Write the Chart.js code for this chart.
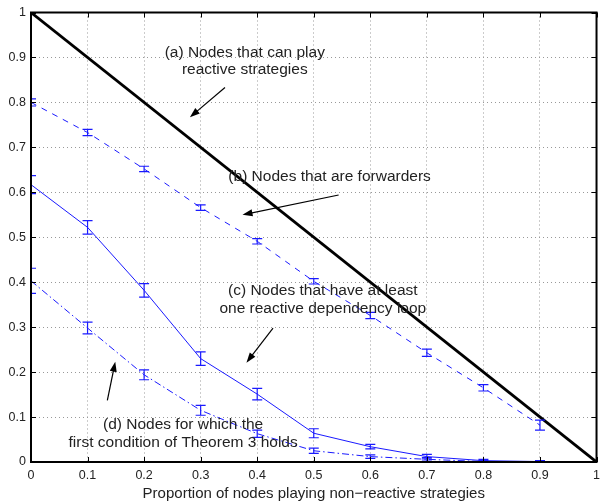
<!DOCTYPE html>
<html>
<head>
<meta charset="utf-8">
<script src="https://cdn.jsdelivr.net/npm/chart.js@4.4.1/dist/chart.umd.min.js"></script>
<style>
  html, body { margin: 0; padding: 0; background: #fff; }
  #wrap { width: 606px; height: 503px; }
</style>
</head>
<body>
<div id="wrap"><canvas id="chart"></canvas></div>
<script>
// data
const xValues = [0, 0.1, 0.2, 0.3, 0.4, 0.5, 0.6, 0.7, 0.8, 0.9];
const reactiveX = [0, 1];
const reactiveY = [1, 0];
const forwardersY = [0.80, 0.733, 0.652, 0.566, 0.491, 0.402, 0.326, 0.243, 0.165, 0.082];
const forwardersErr = [0.008, 0.007, 0.006, 0.006, 0.006, 0.006, 0.007, 0.008, 0.007, 0.011];
const loopY = [0.617, 0.522, 0.382, 0.23, 0.151, 0.064, 0.034, 0.012, 0.003, 0.001];
const loopErr = [0.02, 0.015, 0.015, 0.015, 0.013, 0.01, 0.005, 0.005, 0.003, 0.002];
const theoremY = [0.403, 0.298, 0.194, 0.115, 0.063, 0.025, 0.012, 0.006, 0.001, 0];
const theoremErr = [0.028, 0.013, 0.011, 0.011, 0.008, 0.006, 0.004, 0.004, 0.002, 0.001];
const tickValues = [0, 0.1, 0.2, 0.3, 0.4, 0.5, 0.6, 0.7, 0.8, 0.9, 1];

const BLUE = '#1a1aff';
const FONT = 'Liberation Sans, Arial, Helvetica, sans-serif';

// text annotations, positioned in data units
const notes = [
    { x: 0.378, y: [0.910, 0.873], lines: ['(a) Nodes that can play', 'reactive strategies'], from: [0.343, 0.833], to: [0.281, 0.767] },
    { x: 0.528, y: [0.634], lines: ['(b) Nodes that are forwarders'], from: [0.544, 0.594], to: [0.374, 0.550] },
    { x: 0.516, y: [0.380, 0.340], lines: ['(c) Nodes that have at least', 'one reactive dependency loop'], from: [0.428, 0.298], to: [0.381, 0.221] },
    { x: 0.269, y: [0.082, 0.042], lines: ['(d) Nodes for which the', 'first condition of Theorem 3 holds'], from: [0.135, 0.137], to: [0.149, 0.223] }
];

function toPoints(xs, ys) {
    return xs.map((x, i) => ({ x: x, y: ys[i] }));
}

const errorBarsPlugin = {
    id: 'errorBars',
    afterDatasetsDraw(chart) {
        const { ctx, chartArea, scales } = chart;
        ctx.save();
        ctx.beginPath();
        ctx.rect(chartArea.left, chartArea.top, chartArea.right - chartArea.left, chartArea.bottom - chartArea.top);
        ctx.clip();
        ctx.strokeStyle = BLUE;
        ctx.lineWidth = 1.2;
        chart.data.datasets.forEach(ds => {
            if (!ds.errors) return;
            ds.data.forEach((p, i) => {
                const px = scales.x.getPixelForValue(p.x);
                const top = scales.y.getPixelForValue(p.y + ds.errors[i]);
                const bot = scales.y.getPixelForValue(p.y - ds.errors[i]);
                ctx.beginPath();
                ctx.moveTo(px, top); ctx.lineTo(px, bot);
                ctx.moveTo(px - 5, top); ctx.lineTo(px + 5, top);
                ctx.moveTo(px - 5, bot); ctx.lineTo(px + 5, bot);
                ctx.stroke();
            });
        });
        ctx.restore();
    }
};

const frameAndNotesPlugin = {
    id: 'frameAndNotes',
    afterDraw(chart) {
        const { ctx, chartArea, scales } = chart;
        const { left, right, top, bottom } = chartArea;
        ctx.save();
        // tick marks on all four sides
        ctx.strokeStyle = '#000';
        ctx.lineWidth = 1;
        tickValues.forEach(v => {
            const px = Math.round(scales.x.getPixelForValue(v)) + 0.5;
            const py = Math.round(scales.y.getPixelForValue(v)) + 0.5;
            ctx.beginPath();
            ctx.moveTo(px, bottom); ctx.lineTo(px, bottom - 5);
            ctx.moveTo(px, top); ctx.lineTo(px, top + 5);
            ctx.moveTo(left, py); ctx.lineTo(left + 5, py);
            ctx.moveTo(right, py); ctx.lineTo(right - 5, py);
            ctx.stroke();
        });
        // box
        ctx.lineWidth = 2;
        ctx.strokeRect(left, top, right - left, bottom - top);

        // annotations
        ctx.fillStyle = '#222';
        ctx.font = '15.5px ' + FONT;
        ctx.textAlign = 'center';
        ctx.textBaseline = 'middle';
        notes.forEach(n => {
            const tx = scales.x.getPixelForValue(n.x);
            n.lines.forEach((line, i) => {
                ctx.fillText(line, tx, scales.y.getPixelForValue(n.y[i]));
            });
            const x1 = scales.x.getPixelForValue(n.from[0]);
            const y1 = scales.y.getPixelForValue(n.from[1]);
            const x2 = scales.x.getPixelForValue(n.to[0]);
            const y2 = scales.y.getPixelForValue(n.to[1]);
            const ang = Math.atan2(y2 - y1, x2 - x1);
            ctx.strokeStyle = '#000';
            ctx.lineWidth = 1.2;
            ctx.beginPath();
            ctx.moveTo(x1, y1);
            ctx.lineTo(x2 - 6 * Math.cos(ang), y2 - 6 * Math.sin(ang));
            ctx.stroke();
            ctx.fillStyle = '#000';
            ctx.beginPath();
            ctx.moveTo(x2, y2);
            ctx.lineTo(x2 - 10 * Math.cos(ang) + 3.5 * Math.sin(ang), y2 - 10 * Math.sin(ang) - 3.5 * Math.cos(ang));
            ctx.lineTo(x2 - 10 * Math.cos(ang) - 3.5 * Math.sin(ang), y2 - 10 * Math.sin(ang) + 3.5 * Math.cos(ang));
            ctx.closePath();
            ctx.fill();
            ctx.fillStyle = '#222';
        });
        ctx.restore();
    }
};

const ctx = document.getElementById('chart').getContext('2d');
new Chart(ctx, {
    type: 'scatter',
    data: {
        datasets: [
            {
                label: '(a)',
                data: toPoints(reactiveX, reactiveY),
                showLine: true,
                borderColor: '#000',
                borderWidth: 2.8,
                pointRadius: 0
            },
            {
                label: '(b)',
                data: toPoints(xValues, forwardersY),
                errors: forwardersErr,
                showLine: true,
                borderColor: BLUE,
                borderWidth: 1,
                borderDash: [6, 6],
                pointRadius: 0
            },
            {
                label: '(c)',
                data: toPoints(xValues, loopY),
                errors: loopErr,
                showLine: true,
                borderColor: BLUE,
                borderWidth: 1,
                pointRadius: 0
            },
            {
                label: '(d)',
                data: toPoints(xValues, theoremY),
                errors: theoremErr,
                showLine: true,
                borderColor: BLUE,
                borderWidth: 1,
                borderDash: [7, 3, 1.5, 3],
                pointRadius: 0
            }
        ]
    },
    options: {
        responsive: true,
        maintainAspectRatio: false,
        animation: false,
        layout: { padding: { top: 9, right: 3, left: 0, bottom: 0 } },
        plugins: { legend: { display: false }, tooltip: { enabled: false } },
        scales: {
            x: {
                type: 'linear',
                min: 0, max: 1,
                afterBuildTicks: s => { s.ticks = tickValues.map(v => ({ value: v })); },
                afterFit: s => { s.height = 41; },
                border: { display: false, dash: [1, 3] },
                grid: { color: '#999', drawTicks: false, lineWidth: 1 },
                ticks: { color: '#222', padding: 6, font: { family: FONT, size: 12.5 }, callback: v => String(Math.round(v * 10) / 10), maxRotation: 0 },
                title: { display: true, text: 'Proportion of nodes playing non\u2212reactive strategies', color: '#222', font: { family: FONT, size: 15 }, padding: { top: 0, bottom: 0 } }
            },
            y: {
                type: 'linear',
                min: 0, max: 1,
                afterBuildTicks: s => { s.ticks = tickValues.map(v => ({ value: v })); },
                afterFit: s => { s.width = 31; },
                border: { display: false, dash: [1, 3] },
                grid: { color: '#999', drawTicks: false, lineWidth: 1 },
                ticks: { color: '#222', padding: 5, font: { family: FONT, size: 12.5 }, callback: v => String(Math.round(v * 10) / 10) }
            }
        }
    },
    plugins: [errorBarsPlugin, frameAndNotesPlugin]
});
</script>
</body>
</html>
